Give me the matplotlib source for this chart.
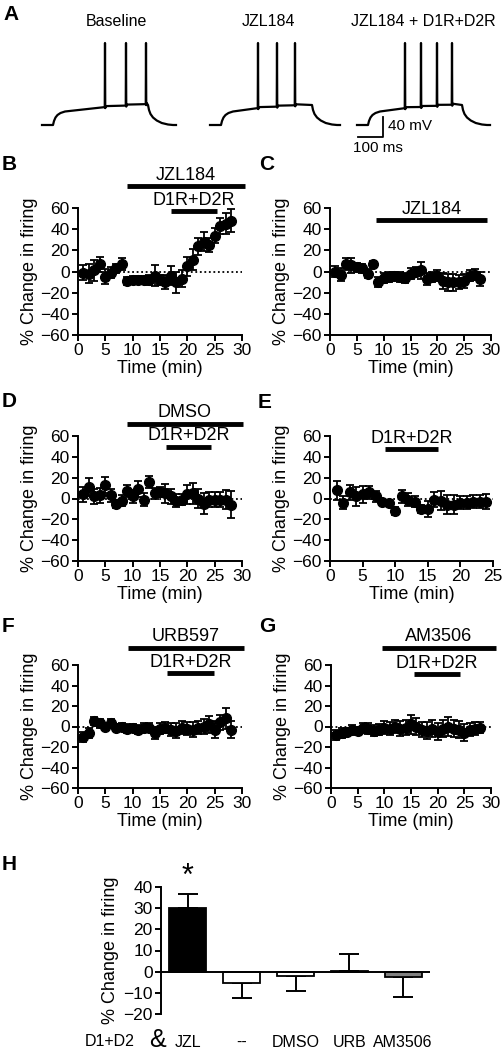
import numpy as np
import matplotlib
matplotlib.use("Agg")
from matplotlib import pyplot as plt

plt.rcParams['font.family'] = ['Liberation Sans', 'DejaVu Sans']
plt.rcParams['font.size'] = 12.5

W, H = 504, 1050

# ---- panel A: example traces (ms, mV) ----
trace_titles = ['Baseline', 'JZL184', 'JZL184 + D1R+D2R']
trace_start = [168, 840, 1428]
spikes = [[252, 336, 416], [192, 268, 340], [192, 256, 320, 380]]
step_off = [424, 408, 420]
rise_t = [0, 44, 48, 54, 62, 74, 92]
rise_v = [-70, -70, -62, -55, -50, -46, -43]
decay_t = [0, 4, 10, 20, 35, 55, 80, 100, 112]
decay_v = [-30, -40, -48, -55, -61, -66, -69, -70, -70]
spike_peak = 94

# ---- panels B-G: time courses ----
t_B = [1, 2, 3, 4, 5, 6, 7, 8, 9, 10, 11, 12, 13, 14, 15, 16, 17, 18, 19, 20, 21, 22, 23, 24, 25, 26, 27, 28]
v_B = [-1, -2, 1, 7, -5, -1, 3, 7, -9, -8, -8, -8, -8, -4, -8, -10, -4, -10, -7, 5, 11, 24, 28, 25, 34, 43, 45, 48]
e_B = [7, 9, 10, 7, 7, 5, 4, 6, 4, 4, 4, 4, 5, 10, 5, 7, 9, 10, 8, 9, 10, 8, 9, 7, 7, 8, 10, 11]

t_C = [1, 2, 3, 4, 5, 6, 7, 8, 9, 10, 11, 12, 13, 14, 15, 16, 17, 18, 19, 20, 21, 22, 23, 24, 25, 26, 27, 28]
v_C = [0, -3, 7, 6, 4, 3, -2, 7, -10, -6, -5, -4, -5, -6, -2, 0, 1, -7, -5, -4, -9, -10, -10, -10, -9, -4, -3, -7]
e_C = [5, 6, 6, 7, 4, 4, 4, 3, 5, 5, 5, 4, 5, 5, 5, 4, 8, 6, 5, 5, 8, 8, 8, 7, 7, 5, 5, 7]

t_D = [1, 2, 3, 4, 5, 6, 7, 8, 9, 10, 11, 12, 13, 14, 15, 16, 17, 18, 19, 20, 21, 22, 23, 24, 25, 26, 27, 28]
v_D = [4, 11, 2, 3, 13, 3, -5, -2, 7, 2, 9, -1, 16, 5, 6, 5, 2, -2, -1, 4, 5, 0, -5, -1, -1, -1, -1, -6]
e_D = [7, 9, 7, 7, 8, 6, 4, 5, 6, 6, 8, 6, 6, 5, 5, 9, 7, 6, 5, 9, 10, 9, 10, 7, 7, 7, 9, 13]

t_E = [1, 2, 3, 4, 5, 6, 7, 8, 9, 10, 11, 12, 13, 14, 15, 16, 17, 18, 19, 20, 21, 22, 23, 24]
v_E = [8, -4, 6, 2, 4, 6, 2, -3, -4, -12, 2, -1, -3, -10, -10, -1, -2, -6, -6, -4, -4, -3, -3, -3]
e_E = [9, 6, 7, 9, 8, 6, 5, 3, 3, 4, 6, 6, 5, 4, 8, 7, 9, 9, 9, 6, 6, 6, 6, 7]

t_F = [1, 2, 3, 4, 5, 6, 7, 8, 9, 10, 11, 12, 13, 14, 15, 16, 17, 18, 19, 20, 21, 22, 23, 24, 25, 26, 27, 28]
v_F = [-10, -6, 5, 3, 0, 3, -1, 0, -2, -1, -3, -1, -1, -6, -2, -1, -3, -4, -1, -2, -3, -1, 0, 2, -3, 4, 8, -3]
e_F = [5, 5, 4, 4, 3, 4, 3, 3, 4, 3, 4, 4, 4, 6, 5, 5, 6, 7, 6, 6, 7, 6, 7, 8, 8, 7, 10, 8]

t_G = [1, 2, 3, 4, 5, 6, 7, 8, 9, 10, 11, 12, 13, 14, 15, 16, 17, 18, 19, 20, 21, 22, 23, 24, 25, 26, 27, 28]
v_G = [-8, -6, -5, -3, -4, -1, -2, -4, -3, -1, -2, 0, -2, -1, 2, 0, -3, -4, -2, -5, -2, 0, -2, -3, -6, -3, -2, -1]
e_G = [5, 5, 4, 4, 4, 4, 5, 5, 5, 6, 6, 6, 7, 7, 9, 8, 7, 8, 8, 8, 8, 9, 8, 8, 8, 6, 6, 5]

# treatment bars: (start min, end min, y, label, label y)
bars_B = [(9, 30.5, 81, 'JZL184', 91), (17, 25.5, 57, 'D1R+D2R', 67)]
bars_C = [(8.5, 29.3, 49, 'JZL184', 59)]
bars_D = [(8.9, 30.2, 72, 'DMSO', 83), (16.1, 24.4, 49, 'D1R+D2R', 60)]
bars_E = [(8.5, 16.6, 48, 'D1R+D2R', 58)]
bars_F = [(9.1, 30.4, 77, 'URB597', 88), (16.3, 24.8, 52, 'D1R+D2R', 62)]
bars_G = [(9.5, 30.9, 77, 'AM3506', 88), (15.6, 24.2, 51, 'D1R+D2R', 61)]

# ---- panel H: summary ----
groups = ['JZL', '--', 'DMSO', 'URB', 'AM3506']
means = [30, -5.5, -2, 0.5, -2.5]
sems = [6.5, 7, 7, 8, 9.5]
bar_colors = ['black', 'white', 'white', 'white', '#808080']


def px_axes(fig, l, t, r, b):
    return fig.add_axes([l / W, 1 - b / H, (r - l) / W, (b - t) / H])


def build_trace(t0, sp, off):
    ts = [t0 + x for x in rise_t]
    vs = list(rise_v)
    plateau0, plateau1 = -40, -28
    for s in sp:
        frac = (s - rise_t[-1]) / (off - rise_t[-1])
        lvl = plateau0 + frac * (plateau1 - plateau0)
        ts += [t0 + s - 1, t0 + s, t0 + s + 1, t0 + s + 3]
        vs += [lvl, spike_peak, lvl - 2, lvl + 2]
    ts += [t0 + off + x for x in decay_t]
    vs += list(decay_v)
    return ts, vs


def time_panel(ax, t, v, e, xmax, bars):
    ax.axhline(0, color='black', ls=(0, (1, 1.5)), lw=1.3, zorder=1)
    ax.errorbar(t, v, yerr=e, fmt='o', color='black', ms=7, capsize=3,
                elinewidth=1.3, capthick=1.3, zorder=3)
    ax.set_xlim(0, xmax)
    ax.set_ylim(-60, 60)
    ax.set_xticks(range(0, xmax + 1, 5))
    ax.set_yticks(range(-60, 61, 20))
    for s in ['top', 'right']:
        ax.spines[s].set_visible(False)
    for s in ['left', 'bottom']:
        ax.spines[s].set_linewidth(1.4)
    ax.tick_params(width=1.4, length=4, pad=2)
    ax.set_xlabel('Time (min)', labelpad=1, fontsize=13)
    ax.set_ylabel('% Change in firing', labelpad=2, fontsize=13)
    for x0, x1, y, label, ly in bars:
        ax.plot([x0, x1], [y, y], color='black', lw=3.5, solid_capstyle='butt', clip_on=False)
        ax.text((x0 + x1) / 2, ly, label, ha='center', va='center', fontsize=13, clip_on=False)


fig = plt.figure(figsize=(W / 100, H / 100), dpi=100)

# panel A
axA = px_axes(fig, 0, 35, 504, 150)
axA.set_xlim(0, 2016)
axA.set_ylim(-120, 110)
axA.axis('off')
for t0, sp, off in zip(trace_start, spikes, step_off):
    ts, vs = build_trace(t0, sp, off)
    axA.plot(ts, vs, color='black', lw=1.6)
axA.plot([1432, 1532, 1532], [-94, -94, -54], color='black', lw=1.3)
fig.text(388 / W, 1 - 126 / H, '40 mV', fontsize=11, va='center')
fig.text(378 / W, 1 - 148 / H, '100 ms', fontsize=11, ha='center', va='center')
for title, x in zip(trace_titles, [116, 268, 423]):
    fig.text(x / W, 1 - 21 / H, title, ha='center', va='center', fontsize=11.5)

time_panel(px_axes(fig, 78, 208, 242, 335), t_B, v_B, e_B, 30, bars_B)
time_panel(px_axes(fig, 330, 208, 491, 335), t_C, v_C, e_C, 30, bars_C)
time_panel(px_axes(fig, 78, 436, 242, 561), t_D, v_D, e_D, 30, bars_D)
time_panel(px_axes(fig, 330, 436, 493, 561), t_E, v_E, e_E, 25, bars_E)
time_panel(px_axes(fig, 78, 665, 242, 788), t_F, v_F, e_F, 30, bars_F)
time_panel(px_axes(fig, 331, 665, 491, 788), t_G, v_G, e_G, 30, bars_G)

# panel H
axH = px_axes(fig, 161, 887, 430, 1014)
pos = np.arange(len(groups))
lower = [s if m < 0 else 0 for m, s in zip(means, sems)]
upper = [s if m >= 0 else 0 for m, s in zip(means, sems)]
axH.errorbar(pos, means, yerr=[lower, upper], fmt='none', ecolor='black',
             elinewidth=1.4, capsize=7.5, capthick=1.4, zorder=1)
axH.bar(pos, means, width=0.69, color=bar_colors, edgecolor='black', lw=1.3, zorder=2)
axH.axhline(0, color='black', lw=1.4, zorder=3)
axH.set_xlim(-0.5, 4.5)
axH.set_ylim(-20, 40)
axH.set_yticks(range(-20, 41, 10))
axH.set_xticks(pos, groups, fontsize=11.5)
axH.tick_params(axis='x', length=0, pad=15)
axH.tick_params(axis='y', width=1.4, length=4, pad=2, labelsize=12.5)
for s in ['top', 'right', 'bottom']:
    axH.spines[s].set_visible(False)
axH.spines['left'].set_linewidth(1.4)
axH.set_ylabel('% Change in firing', labelpad=3, fontsize=13)
axH.text(0, 45, '*', ha='center', va='center', fontsize=22)
fig.text(110 / W, 1 - 1042 / H, 'D1+D2', ha='center', va='center', fontsize=11.5)
fig.text(157 / W, 1 - 1040 / H, '&', ha='center', va='center', fontsize=18)

# panel letters
for letter, x, y in [('A', 3, 14), ('B', 2, 164), ('C', 259, 164), ('D', 2, 402),
                     ('E', 258, 403), ('F', 2, 627), ('G', 259, 627), ('H', 2, 865)]:
    fig.text(x / W, 1 - y / H, letter, fontsize=15, fontweight='bold', va='center')

fig.savefig('out.png', dpi=100)
